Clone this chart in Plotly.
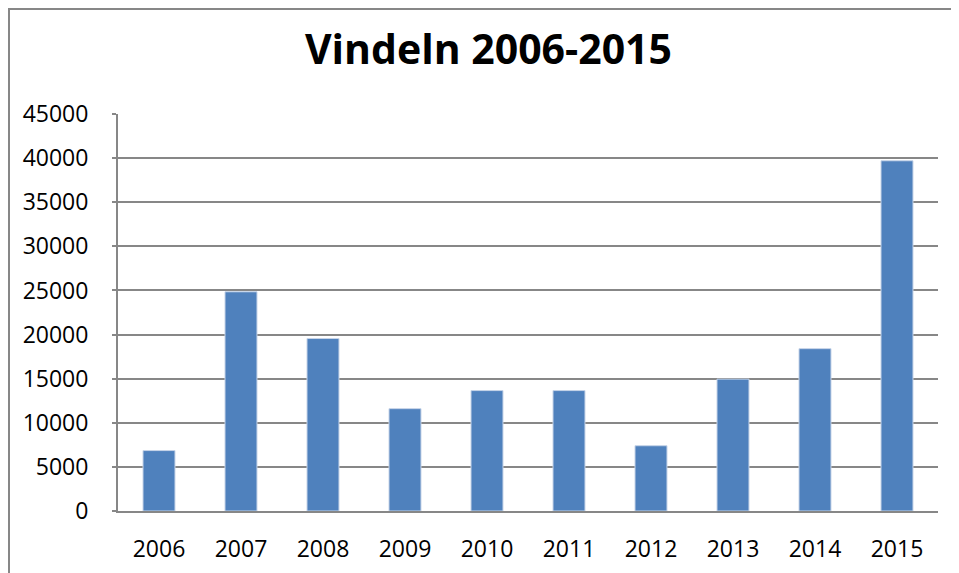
import plotly.graph_objects as go

years = ["2006", "2007", "2008", "2009", "2010", "2011", "2012", "2013", "2014", "2015"]
values = [6850, 24850, 19550, 11600, 13650, 13650, 7400, 14950, 18400, 39700]
y_ticks = [0, 5000, 10000, 15000, 20000, 25000, 30000, 35000, 40000, 45000]

grid_col = "#878787"
font_name = "Open Sans"

fig = go.Figure()
fig.add_trace(go.Bar(
    x=years,
    y=values,
    marker=dict(color="#4F81BD", line=dict(color="#C6D4E8", width=1)),
    showlegend=False,
))

# page body has an 8px margin, so the figure is offset by 8px
fig.update_layout(
    width=959,
    height=573,
    margin=dict(l=110, r=29, t=106, b=70),
    paper_bgcolor="white",
    plot_bgcolor="white",
    bargap=0.61,
    font=dict(family=font_name, size=23, color="black"),
    title=dict(
        text="<b>Vindeln 2006-2015</b>",
        font=dict(family=font_name, size=41, color="black"),
        x=0.501, xref="container", xanchor="center",
        y=0.927, yref="container", yanchor="middle",
    ),
    xaxis=dict(
        automargin=False,
        showgrid=False,
        showline=True, linecolor=grid_col, linewidth=2,
        ticks="", ticklabelstandoff=16,
    ),
    yaxis=dict(
        automargin=False,
        range=[0, 45000],
        tickvals=y_ticks,
        tickformat="d",
        showgrid=True, gridcolor=grid_col, gridwidth=2,
        showline=True, linecolor=grid_col, linewidth=2,
        zeroline=False,
        ticks="outside", ticklen=4, tickcolor=grid_col, tickwidth=2,
        ticklabelstandoff=19,
    ),
    shapes=[dict(
        type="rect", xref="paper", yref="paper",
        x0=(9 - 118) / 820, x1=1.05, y0=-0.3, y1=(511 - 9) / 397,
        line=dict(color=grid_col, width=2), layer="below",
    )],
)

fig.write_html("out.html")
